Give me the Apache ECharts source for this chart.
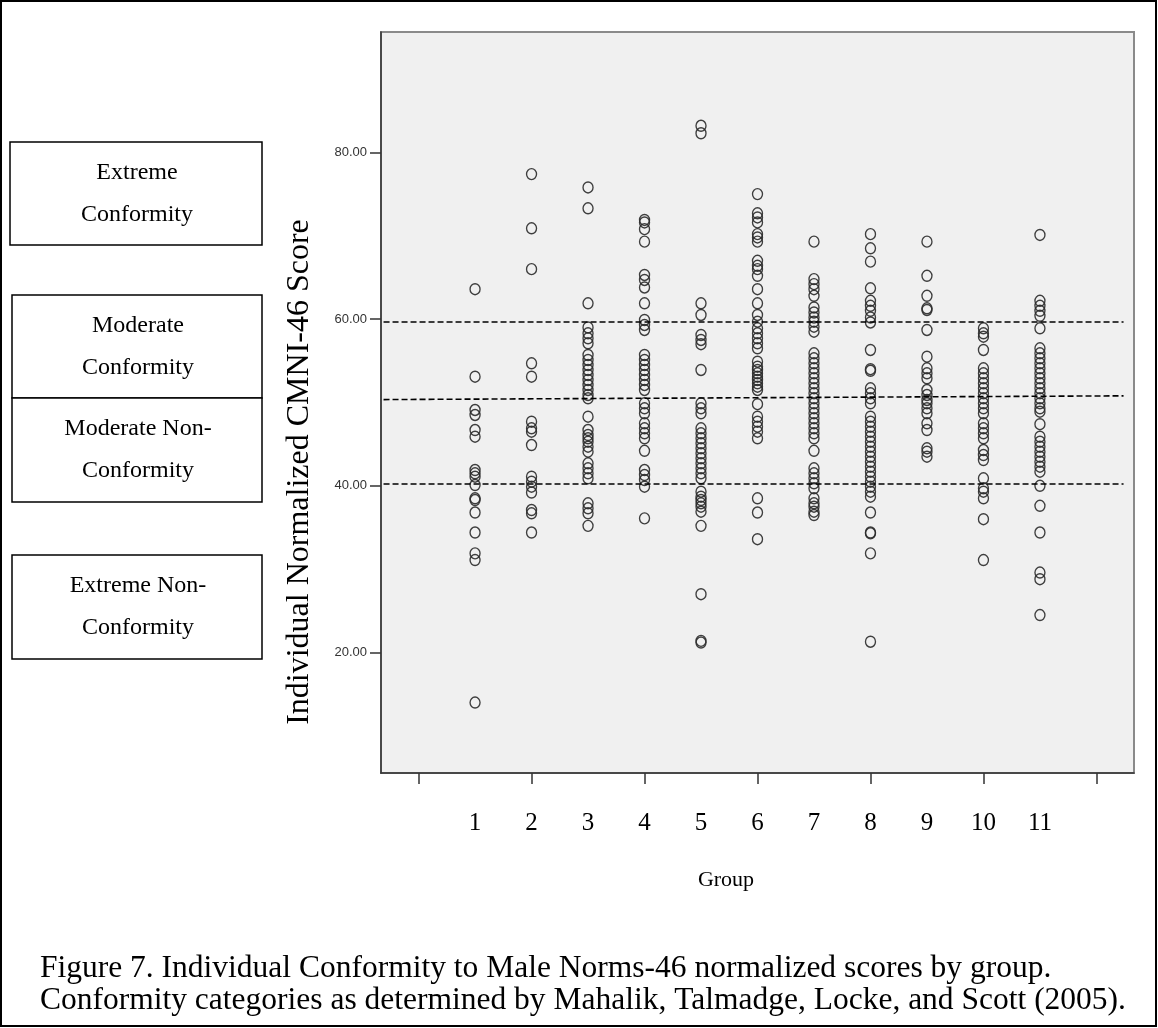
<!DOCTYPE html>
<html><head><meta charset="utf-8">
<script src="https://cdn.jsdelivr.net/npm/echarts@6/dist/echarts.min.js"></script>
<style>html,body{margin:0;padding:0;background:#fff}#c{width:1158px;height:1028px}</style>
</head><body><div id="c"></div>
<script>
// Data
const groups = [1,2,3,4,5,6,7,8,9,10,11];
const g1 = [63.6,53.1,49.1,48.5,46.7,45.9,41.9,41.5,41.1,40.1,38.5,38.3,36.8,34.4,31.9,31.1,14.0];
const g2 = [77.4,70.9,66.0,54.7,53.1,47.7,46.9,46.5,44.9,41.1,40.5,39.9,39.2,37.1,36.7,34.4];
const g3 = [75.8,73.3,61.9,59.0,58.3,57.7,57.1,55.7,55.1,54.5,53.9,53.3,52.7,52.1,51.5,50.9,50.5,48.3,46.7,46.1,45.7,45.3,44.7,44.1,42.7,42.1,41.5,40.9,37.9,37.3,36.7,35.2];
const g4 = [71.9,71.6,70.8,69.3,65.3,64.7,63.8,61.9,59.9,59.3,58.7,55.7,55.1,54.5,53.9,53.3,52.7,52.1,51.5,49.9,49.3,48.7,47.5,46.9,46.3,45.7,44.2,41.9,41.3,40.7,39.9,36.1];
const g5 = [83.2,82.3,61.9,60.5,58.1,57.5,57.0,53.9,49.9,49.3,48.7,46.9,46.3,45.7,45.1,44.5,43.9,43.3,42.7,42.1,41.5,40.9,39.3,38.7,38.3,37.9,37.5,36.9,35.2,27.0,21.4,21.2];
const g6 = [75.0,72.7,72.2,71.6,70.2,69.8,69.3,67.0,66.4,66.0,65.2,63.6,61.9,60.5,59.7,58.9,58.3,57.7,57.1,56.5,54.9,54.3,53.9,53.5,53.1,52.7,52.3,51.9,51.5,49.8,48.3,47.7,47.1,46.5,45.7,38.5,36.8,33.6];
const g7 = [69.3,64.8,64.2,63.6,62.8,61.4,60.8,60.2,59.7,59.1,58.5,55.9,55.3,54.7,54.1,53.5,52.9,52.3,51.7,51.1,50.5,49.9,49.3,48.7,48.1,47.5,46.9,46.3,45.7,44.2,42.1,41.5,40.9,40.3,39.7,38.5,37.9,37.5,36.9,36.5];
const g8 = [70.2,68.5,66.9,63.7,62.2,61.6,61.0,60.2,59.6,56.3,54.0,53.8,51.7,51.1,50.5,49.9,48.3,47.7,47.1,46.5,45.9,45.3,44.7,44.1,43.5,42.9,42.3,41.7,41.1,40.5,39.9,39.3,38.7,36.8,34.4,34.3,31.9,21.3];
const g9 = [69.3,65.2,62.8,61.3,61.1,58.7,55.5,54.1,53.5,52.9,51.5,50.9,50.3,49.9,49.3,48.7,47.5,46.7,44.5,44.1,43.5];
const g10 = [58.9,58.3,57.9,56.3,54.1,53.5,52.9,52.3,51.7,51.1,50.5,49.9,49.3,48.7,47.5,46.9,46.3,45.7,44.3,43.7,43.1,40.9,39.7,39.3,38.5,36.0,31.1];
const g11 = [70.1,62.2,61.6,61.0,60.4,58.9,56.5,55.9,55.3,54.7,54.1,53.5,52.9,52.3,51.7,51.1,50.5,49.9,49.3,48.9,47.4,45.9,45.3,44.7,44.1,43.5,42.9,42.3,41.7,40.0,37.6,34.4,29.6,28.8,24.5];
const groupValues = [g1,g2,g3,g4,g5,g6,g7,g8,g9,g10,g11];
const xTickValues = [0,2,4,6,8,10,12];
const yTickValues = [20,40,60,80];
// cut-off lines: [startGroup, startValue, endGroup, endValue]
const cutLines = [[-0.62,59.7,12.48,59.7],[-0.62,50.35,12.48,50.8],[-0.62,40.3,12.48,40.3]];
const categories = [
  ['Extreme','Conformity'],
  ['Moderate','Conformity'],
  ['Moderate Non-','Conformity'],
  ['Extreme Non-','Conformity']
];
const yTitle = 'Individual Normalized CMNI-46 Score';
const xTitle = 'Group';
const caption = ['Figure 7. Individual Conformity to Male Norms-46 normalized scores by group.',
  'Conformity categories as determined by Mahalik, Talmadge, Locke, and Scott (2005).'];

const points = [];
groupValues.forEach((arr,i)=>arr.forEach(v=>points.push([groups[i], v])));

const serif = '"Liberation Serif","Times New Roman",serif';
const boxes = [
  {x:10,y:142,w:252,h:103},
  {x:12,y:295,w:250,h:103},
  {x:12,y:398,w:250,h:104},
  {x:12,y:555,w:250,h:104}
];
const graphics = [
  {type:'rect', shape:{x:1,y:1,width:1155,height:1025}, style:{fill:'none',stroke:'#000',lineWidth:2}, z:-1}
];
boxes.forEach((b,i)=>{
  graphics.push({type:'rect', shape:{x:b.x,y:b.y,width:b.w,height:b.h}, style:{fill:'#fff',stroke:'#000',lineWidth:1.5}});
  graphics.push({type:'text', x:b.x+b.w/2+1, y:b.y+b.h/2-21, style:{text:categories[i][0], font:'24px '+serif, fill:'#000', align:'center', verticalAlign:'middle'}});
  graphics.push({type:'text', x:b.x+b.w/2+1, y:b.y+b.h/2+21, style:{text:categories[i][1], font:'24px '+serif, fill:'#000', align:'center', verticalAlign:'middle'}});
});
graphics.push({type:'text', x:300, y:472, rotation:Math.PI/2, style:{text:yTitle, font:'32px '+serif, fill:'#000', align:'center', verticalAlign:'middle'}});
graphics.push({type:'text', x:726, y:880, style:{text:xTitle, font:'22px '+serif, fill:'#000', align:'center', verticalAlign:'middle'}});
graphics.push({type:'text', x:40, y:969, style:{text:caption[0], font:'31.5px '+serif, fill:'#000', align:'left', verticalAlign:'middle'}});
graphics.push({type:'text', x:40, y:1001, style:{text:caption[1], font:'31.5px '+serif, fill:'#000', align:'left', verticalAlign:'middle'}});

const chart = echarts.init(document.getElementById('c'), null, {renderer:'canvas'});
chart.setOption({
  animation:false,
  backgroundColor:'#fff',
  grid:{left:381, top:32, width:753, height:741, show:true, backgroundColor:'#f0f0f0', borderColor:'#8a8a8a', borderWidth:2},
  xAxis:{type:'value', min:-0.665, max:12.665,
    axisLine:{show:true, onZero:false, lineStyle:{color:'#333', width:1.5}},
    axisTick:{show:true, inside:false, length:11, customValues:xTickValues, lineStyle:{color:'#333', width:1.5}},
    axisLabel:{show:true, customValues:groups, margin:38, fontFamily:serif, fontSize:25, color:'#000'},
    splitLine:{show:false}},
  yAxis:{type:'value', min:5.55, max:94.45,
    axisLine:{show:true, onZero:false, lineStyle:{color:'#333', width:1.5}},
    axisTick:{show:true, inside:false, length:11, customValues:yTickValues, lineStyle:{color:'#333', width:1.5}},
    axisLabel:{show:true, customValues:yTickValues, formatter:v=>v.toFixed(2), margin:14, fontFamily:'"Liberation Sans",Arial,sans-serif', fontSize:13, color:'#333'},
    splitLine:{show:false}},
  series:[{
    type:'scatter', data:points, symbol:'circle', symbolSize:[10,11],
    itemStyle:{color:'rgba(0,0,0,0)', borderColor:'#2a2a2a', borderWidth:1.4, opacity:0.9},
    emphasis:{disabled:true},
    markLine:{silent:true, symbol:'none', label:{show:false},
      lineStyle:{color:'#000', type:[6,3], width:1.6},
      data:cutLines.map(l=>[{coord:[l[0],l[1]]},{coord:[l[2],l[3]]}])}
  }],
  graphic:graphics
});
</script></body></html>
